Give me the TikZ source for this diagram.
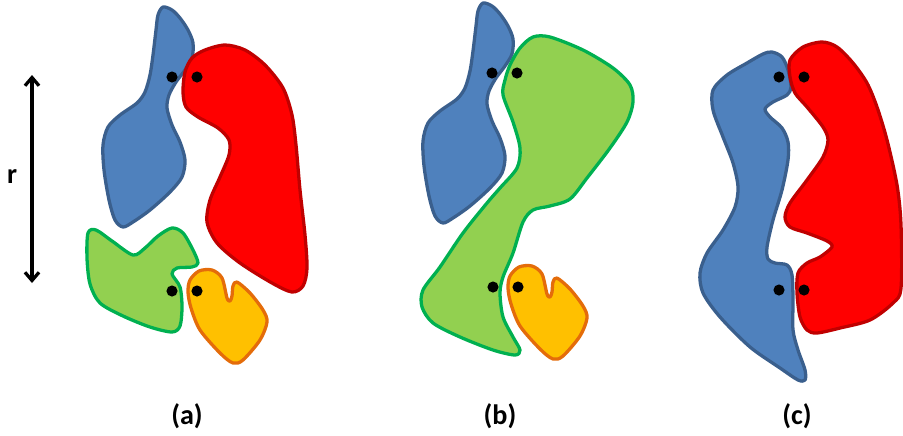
\documentclass[tikz,border=0pt]{standalone}
\usepackage{fontspec}
\setmainfont{Carlito}
\usetikzlibrary{arrows.meta}
\definecolor{bluefill}{HTML}{4F81BD}
\definecolor{blueedge}{HTML}{3A5F8D}
\definecolor{redfill}{HTML}{FF0000}
\definecolor{rededge}{HTML}{C00000}
\definecolor{greenfill}{HTML}{92D050}
\definecolor{greenedge}{HTML}{00B050}
\definecolor{orangefill}{HTML}{FFC000}
\definecolor{orangeedge}{HTML}{E46C0A}

\tikzset{
  blobline/.style={line width=2.8pt, line join=round},
  blueblob/.pic={\draw[blobline,draw=blueedge,fill=bluefill] plot[smooth cycle] coordinates {
      (163,7) (172,10) (180,18) (188,30) (193,43) (192,58) (185,70) (176,82) (169,95)
      (167,108) (172,125) (180,142) (185,160) (182,177) (170,192) (150,210) (133,222)
      (123,227) (115,220) (109,200) (104,170) (103,145) (108,127) (120,115) (137,103)
      (145,92) (150,75) (153,55) (156,30) (158,15)};},
  orangeblob/.pic={\draw[blobline,draw=orangeedge,fill=orangefill] plot[smooth cycle] coordinates {
      (190,280) (199,271) (212,270) (222,278) (227,298) (230,301) (232,296) (233,286) (237,282)
      (250,293) (263,310) (267,322) (260,340) (243,360) (233,363) (220,353) (200,330)
      (191,308) (188,292)};},
  joint/.style={circle, fill=black, inner sep=0pt, minimum size=9.5pt},
  caption/.style={font=\fontsize{24}{28}\selectfont\bfseries}
}

\begin{document}
\begin{tikzpicture}[x=0.03cm, y=-0.03cm]
  \useasboundingbox (0,0) rectangle (903,435);

  % (a)
  \pic at (0,0) {blueblob};
  \draw[blobline,draw=rededge,fill=redfill] plot[smooth cycle] coordinates {
      (192,58) (205,50) (225,45) (245,50) (265,65) (283,88) (292,115) (296,145) (300,190)
      (305,235) (307,268) (303,286) (292,292) (272,283) (240,263) (217,243) (207,222)
      (210,200) (220,177) (229,155) (229,140) (218,128) (198,117) (186,107) (183,92) (185,72)};
  \draw[blobline,draw=greenedge,fill=greenfill] plot[smooth cycle] coordinates {
      (88,233) (96,230) (112,241) (133,255) (145,248) (158,236) (172,228) (183,233)
      (193,250) (198,263) (192,267) (177,268) (172,274) (180,287) (182,307) (180,326)
      (172,332) (150,327) (123,316) (100,303) (90,284) (87,258)};
  \pic at (0,0) {orangeblob};
  \node[joint] (a1) at (172,77) {};
  \node[joint] (a2) at (197,77) {};
  \node[joint] (a3) at (172,291) {};
  \node[joint] (a4) at (197,291) {};

  % (b)
  \pic at (320,-4) {blueblob};
  \draw[blobline,draw=greenedge,fill=greenfill] plot[smooth cycle] coordinates {
      (520,48) (533,37) (550,37) (583,50) (613,68) (630,85) (633,102) (627,122) (610,148)
      (587,178) (570,199) (550,206) (533,210) (523,222) (513,253) (503,277) (500,293)
      (503,317) (513,337) (520,350) (515,355) (493,350) (460,337) (433,323) (422,307)
      (423,290) (440,267) (463,233) (487,203) (500,188) (517,168) (520,148) (513,122)
      (503,95) (505,80) (510,65)};
  \pic at (320,-4) {orangeblob};
  \node[joint] (b1) at (492,73) {};
  \node[joint] (b2) at (517,73) {};
  \node[joint] (b3) at (493,287) {};
  \node[joint] (b4) at (518,287) {};

  % (c)
  \draw[blobline,draw=blueedge,fill=bluefill] plot[smooth cycle] coordinates {
      (772,52) (782,57) (788,70) (791,87) (787,95) (773,102) (765,109) (770,117) (782,128)
      (788,142) (788,160) (782,190) (773,220) (767,247) (768,259) (775,263) (787,265)
      (792,275) (793,300) (793,330) (798,350) (805,370) (805,380) (798,380) (780,368)
      (750,347) (720,317) (703,293) (700,273) (707,253) (723,230) (735,207) (738,187)
      (733,163) (723,137) (713,110) (713,90) (727,75) (747,63) (763,54)};
  \draw[blobline,draw=rededge,fill=redfill] plot[smooth cycle] coordinates {
      (790,60) (803,47) (822,42) (837,47) (853,63) (867,83) (877,107) (887,140) (897,185)
      (901,225) (901,288) (893,303) (870,320) (840,328) (817,333) (807,330) (800,317)
      (797,293) (798,273) (807,263) (820,257) (832,247) (827,241) (807,233) (790,227)
      (785,217) (790,203) (807,180) (823,157) (828,140) (823,127) (807,107) (795,93) (790,77)};
  \node[joint] (c1) at (779,77) {};
  \node[joint] (c2) at (804,77) {};
  \node[joint] (c3) at (779,290) {};
  \node[joint] (c4) at (804,290) {};

  % range r
  \coordinate (rtop) at (32,75);
  \coordinate (rbot) at (32,283);
  \draw[line width=2.8pt, {Straight Barb[length=7pt,width=12pt]}-{Straight Barb[length=7pt,width=12pt]}] (rtop) -- (rbot);
  \node[caption] (rlab) at (12,177) {r};

  \node[caption] (capa) at (187,416) {(a)};
  \node[caption] (capb) at (500,416) {(b)};
  \node[caption] (capc) at (797,416) {(c)};
\end{tikzpicture}
\end{document}
